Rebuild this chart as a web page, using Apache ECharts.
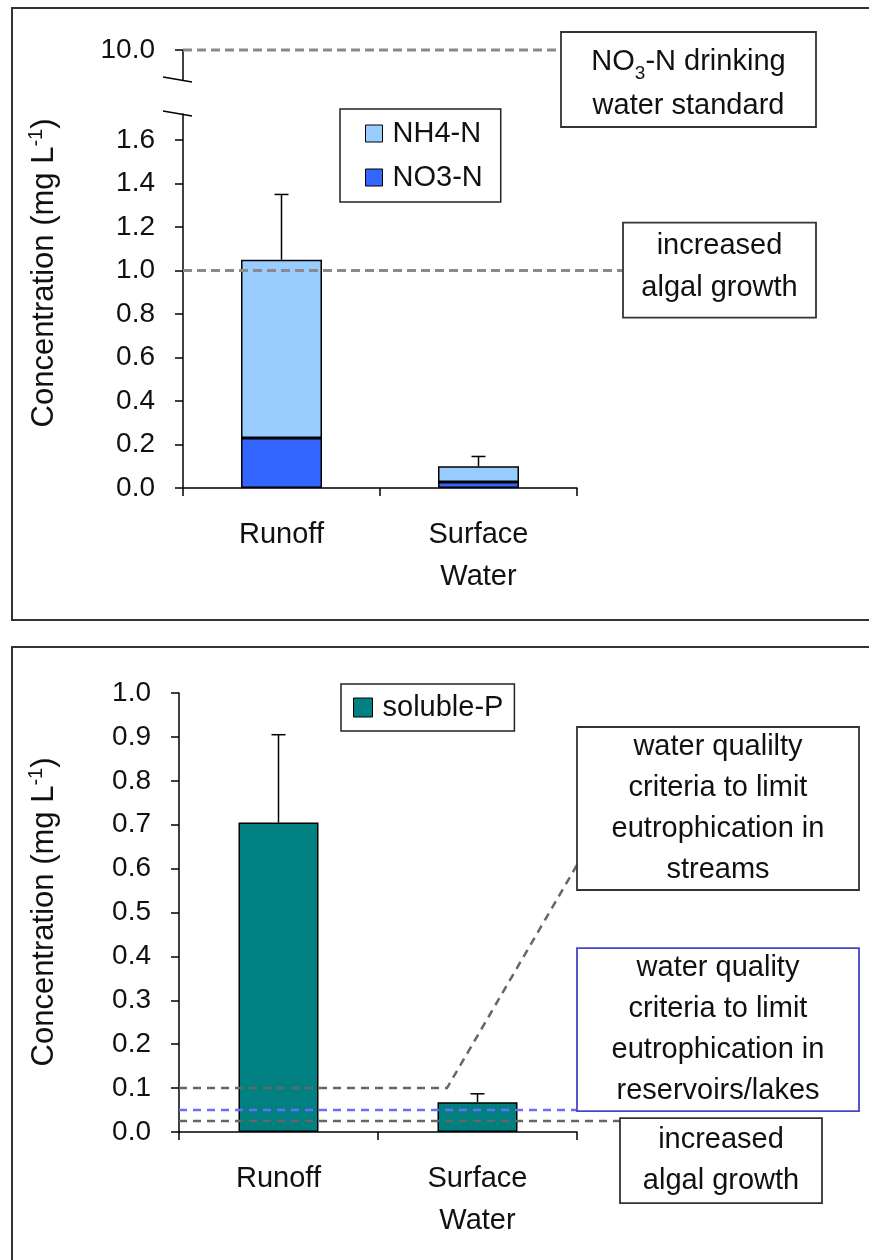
<!DOCTYPE html>
<html>
<head>
<meta charset="utf-8">
<script src="https://cdn.jsdelivr.net/npm/echarts@6/dist/echarts.min.js"></script>
<style>
  html, body { margin: 0; padding: 0; background: #fff; }
  #chart { width: 869px; height: 1260px; }
</style>
</head>
<body>
<div id="chart"></div>
<script>
// ---- data (mg L-1) ----
const categories = ['Runoff', 'Surface\nWater'];

// nitrogen panel
const no3N = [0.23, 0.028];
const nh4N = [0.82, 0.072];
const nErr = [0.30, 0.045];

// phosphorus panel
const solubleP = [0.705, 0.068];
const pErr = [0.20, 0.019];

// reference levels
const nDrinkingStd = 10.0;
const nAlgal = 1.0;
const pStreams = 0.1;
const pLakes = 0.05;
const pAlgal = 0.025;

// tick labels
const nTicksHigh = [10.0];
const nTicksLow = [0.0, 0.2, 0.4, 0.6, 0.8, 1.0, 1.2, 1.4, 1.6];
const pTicks = [0.0, 0.1, 0.2, 0.3, 0.4, 0.5, 0.6, 0.7, 0.8, 0.9, 1.0];

// ---- styling ----
const FONT = '"Liberation Sans", Arial, sans-serif';
const INK = '#111';
const FS = 29;

const chart = echarts.init(document.getElementById('chart'), null, { renderer: 'canvas', width: 869, height: 1260 });

function valueAxis(gridIndex, min, max, ticks) {
  return {
    type: 'value', gridIndex, min, max,
    axisLine: { show: true, lineStyle: { color: '#000', width: 1.5 } },
    axisTick: { show: true, length: 8, inside: false, customValues: ticks, lineStyle: { color: '#000', width: 1.5 } },
    axisLabel: { customValues: ticks, formatter: v => v.toFixed(1), fontFamily: FONT, fontSize: 28, color: INK, margin: 28 },
    splitLine: { show: false }
  };
}

function catAxis(gridIndex, show) {
  return {
    type: 'category', gridIndex, data: categories, show,
    axisLine: { show: true, lineStyle: { color: '#000', width: 1.5 } },
    axisTick: { show: true, length: 8, alignWithLabel: false, lineStyle: { color: '#000', width: 1.5 } },
    axisLabel: { fontFamily: FONT, fontSize: FS, color: INK, margin: 26, lineHeight: 42 },
    splitLine: { show: false }
  };
}

function errorSeries(xi, yi, lows, errs) {
  return {
    type: 'custom', xAxisIndex: xi, yAxisIndex: yi, silent: true, z: 5,
    data: lows.map((v, i) => [i, v, v + errs[i]]),
    encode: { x: 0, y: [1, 2] },
    renderItem(params, api) {
      const p0 = api.coord([api.value(0), api.value(1)]);
      const p1 = api.coord([api.value(0), api.value(2)]);
      const cap = 7;
      const st = { stroke: '#000', lineWidth: 1.5 };
      return {
        type: 'group', children: [
          { type: 'line', shape: { x1: p0[0], y1: p0[1], x2: p1[0], y2: p1[1] }, style: st },
          { type: 'line', shape: { x1: p1[0] - cap, y1: p1[1], x2: p1[0] + cap, y2: p1[1] }, style: st }
        ]
      };
    }
  };
}

const nTotals = no3N.map((v, i) => v + nh4N[i]);

const barBorder = { borderColor: '#000', borderWidth: 1.5 };

chart.setOption({
  animation: false,
  backgroundColor: '#fff',
  textStyle: { fontFamily: FONT },
  grid: [
    { left: 183, width: 394, top: 50, height: 30 },   // nitrogen, upper segment (axis break)
    { left: 183, width: 394, top: 114, height: 374 }, // nitrogen, main segment
    { left: 179, width: 398, top: 693, height: 439 }  // phosphorus
  ],
  xAxis: [catAxis(0, false), catAxis(1, true), catAxis(2, true)],
  yAxis: [
    valueAxis(0, 9.86, 10.0, nTicksHigh),
    valueAxis(1, 0, 1.72, nTicksLow),
    valueAxis(2, 0, 1.0, pTicks)
  ],
  legend: [
    {
      data: ['NH4-N', 'NO3-N'], orient: 'vertical', left: 340, top: 109,
      itemWidth: 17, itemHeight: 17, itemGap: 15, icon: 'rect',
      padding: [10, 18, 10, 25],
      borderColor: '#222', borderWidth: 1.5, backgroundColor: '#fff',
      itemStyle: { borderColor: '#000', borderWidth: 1 },
      textStyle: { fontFamily: FONT, fontSize: FS, color: INK, padding: [0, 0, 0, 5] },
      selectedMode: false
    },
    {
      data: ['soluble-P'], orient: 'vertical', left: 341, top: 684,
      itemWidth: 19, itemHeight: 19, icon: 'rect',
      padding: [9, 11, 9, 12],
      borderColor: '#222', borderWidth: 1.5, backgroundColor: '#fff',
      itemStyle: { borderColor: '#000', borderWidth: 1 },
      textStyle: { fontFamily: FONT, fontSize: FS, color: INK, padding: [0, 0, 0, 5] },
      selectedMode: false
    }
  ],
  series: [
    { type: 'line', xAxisIndex: 0, yAxisIndex: 0, data: [], silent: true },
    {
      type: 'bar', name: 'NO3-N', stack: 'n', xAxisIndex: 1, yAxisIndex: 1, data: no3N,
      barWidth: 81, itemStyle: Object.assign({ color: '#3366ff' }, barBorder), silent: true
    },
    {
      type: 'bar', name: 'NH4-N', stack: 'n', xAxisIndex: 1, yAxisIndex: 1, data: nh4N,
      barWidth: 81, itemStyle: Object.assign({ color: '#99ccff' }, barBorder), silent: true
    },
    errorSeries(1, 1, nTotals, nErr),
    {
      type: 'bar', name: 'soluble-P', xAxisIndex: 2, yAxisIndex: 2, data: solubleP,
      barWidth: 80, itemStyle: Object.assign({ color: '#008080' }, barBorder), silent: true
    },
    errorSeries(2, 2, solubleP, pErr)
  ]
});

// ---- reference lines, annotation boxes, axis break, titles ----
const yPx = (axis, v) => chart.convertToPixel({ yAxisIndex: axis }, v);
const nAxisX = 183, pAxisX = 179;

const dashTop = { stroke: '#8a8a8a', lineWidth: 3, lineDash: [9, 5], fill: null };
const dashGrey = { stroke: '#666', lineWidth: 2.5, lineDash: [8, 6], fill: null };
const dashBlue = { stroke: '#6b6bff', lineWidth: 2.5, lineDash: [8, 6], fill: null };

function hline(x1, x2, y, style) {
  return { type: 'line', z: 10, shape: { x1, y1: y, x2, y2: y }, style };
}

function noteBox(x, y, w, h, text, stroke, lineHeight, rich, dy) {
  return {
    type: 'group', z: 20, children: [
      { type: 'rect', z: 20, shape: { x, y, width: w, height: h }, style: { fill: '#fff', stroke, lineWidth: 1.8 } },
      {
        type: 'text', z: 21, x: x + w / 2, y: y + h / 2 + (dy || 0),
        style: {
          text, fill: INK, font: FS + 'px ' + FONT, align: 'center', verticalAlign: 'middle',
          lineHeight, rich
        }
      }
    ]
  };
}

function yTitle(x, y) {
  return {
    type: 'text', z: 20, x, y, rotation: Math.PI / 2,
    style: {
      text: '{t|Concentration (mg L}{s|-1}{t|)}',
      align: 'center', verticalAlign: 'middle', fill: INK,
      rich: {
        t: { fontFamily: FONT, fontSize: 31, color: INK, lineHeight: 36 },
        s: { fontFamily: FONT, fontSize: 20, color: INK, lineHeight: 20, verticalAlign: 'top' }
      }
    }
  };
}

function breakSlash(x, y) {
  return { type: 'line', z: 12, shape: { x1: x - 20, y1: y - 3, x2: x + 9, y2: y + 2 }, style: { stroke: '#000', lineWidth: 1.5 } };
}

const yStd = yPx(0, nDrinkingStd);
const yNAlg = yPx(1, nAlgal);
const yBreakA = yPx(0, 9.86);
const yBreakB = yPx(1, 1.72);
const yPStream = yPx(2, pStreams);
const yPLake = yPx(2, pLakes);
const yPAlg = yPx(2, pAlgal);

const streamsBox = { x: 577, y: 727, w: 282, h: 163 };
const lakesBox = { x: 577, y: yPLake - 162, w: 282, h: 163 };

const graphics = [
  // panel frames
  { type: 'rect', z: 0, shape: { x: 12, y: 8, width: 880, height: 612 }, style: { fill: null, stroke: '#333', lineWidth: 2 } },
  { type: 'rect', z: 0, shape: { x: 12, y: 647, width: 880, height: 640 }, style: { fill: null, stroke: '#333', lineWidth: 2 } },

  // axis break marks
  breakSlash(nAxisX, yBreakA),
  breakSlash(nAxisX, yBreakB),

  // nitrogen reference lines
  hline(nAxisX, 561, yStd, dashTop),
  hline(nAxisX, 623, yNAlg, dashTop),

  // phosphorus reference lines
  {
    type: 'polyline', z: 10,
    shape: { points: [[pAxisX, yPStream], [447, yPStream], [streamsBox.x, streamsBox.y + 138]] },
    style: dashGrey
  },
  hline(pAxisX, lakesBox.x, yPLake, dashBlue),
  hline(pAxisX, 620, yPAlg, dashGrey),

  // annotation boxes
  noteBox(561, 32, 255, 95, '{t|NO}{b|3}{t|-N drinking}\n{t|water standard}', '#333', 44, {
    t: { fontFamily: FONT, fontSize: FS, color: INK, lineHeight: 44 },
    b: { fontFamily: FONT, fontSize: 19, color: INK, lineHeight: 30, verticalAlign: 'bottom' }
  }, 4),
  noteBox(623, yNAlg - 48, 193, 95, 'increased\nalgal growth', '#333', 42, null, -3),
  noteBox(streamsBox.x, streamsBox.y, streamsBox.w, streamsBox.h,
    'water qualilty\ncriteria to limit\neutrophication in\nstreams', '#333', 41),
  noteBox(lakesBox.x, lakesBox.y, lakesBox.w, lakesBox.h,
    'water quality\ncriteria to limit\neutrophication in\nreservoirs/lakes', '#4646c8', 41),
  noteBox(620, yPAlg - 3, 202, 85, 'increased\nalgal growth', '#333', 41),

  // axis titles
  yTitle(44, 273),
  yTitle(44, 912)
];

chart.setOption({ graphic: { elements: graphics } });
</script>
</body>
</html>
